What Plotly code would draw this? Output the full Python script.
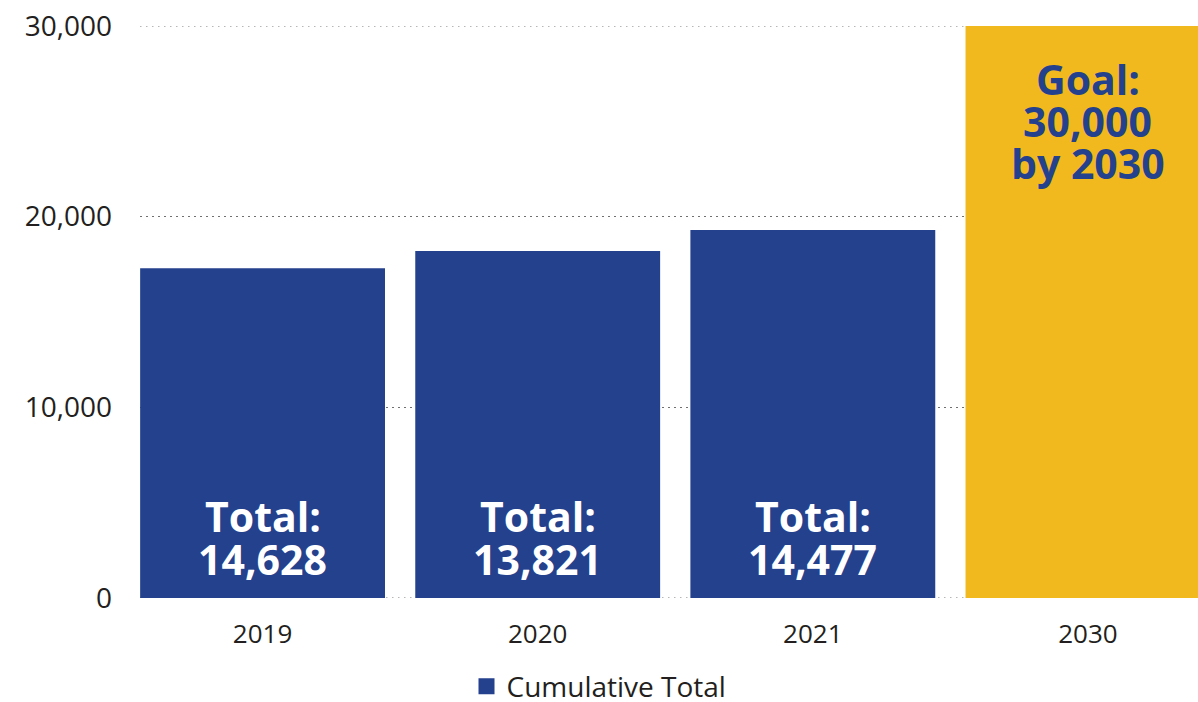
import plotly.graph_objects as go

# data
years = ["2019", "2020", "2021", "2030"]
bar_heights = [17300, 18200, 19300, 30000]
total_labels = ["14,628", "13,821", "14,477"]
goal_lines = ["Goal:", "30,000", "by 2030"]
y_ticks = [0, 10000, 20000, 30000]

BLUE = "#24418e"
GOLD = "#f2b91f"
FONT = "Open Sans"
GRID = dict(color="#6f6f6f", width=1.2, dash="1.5px,4.5px")

fig = go.Figure()
fig.add_trace(go.Bar(
    x=years, y=bar_heights, name="Cumulative Total",
    marker=dict(color=[BLUE, BLUE, BLUE, GOLD], line=dict(width=0)),
    showlegend=False,
))
# legend entry with a bigger square swatch
fig.add_trace(go.Scatter(
    x=[None], y=[None], mode="markers", name="Cumulative Total",
    marker=dict(symbol="square", size=18, color=BLUE),
))

# white two-line labels inside the blue bars (x given as category index)
for idx, lab in enumerate(total_labels):
    for i, line in enumerate(["Total:", lab]):
        fig.add_annotation(x=idx, y=0, text=f"<b>{line}</b>", showarrow=False,
                           yanchor="middle", yshift=82 - 43 * i,
                           font=dict(family=FONT, size=41, color="white"))

# goal text in the gold bar
for i, line in enumerate(goal_lines):
    fig.add_annotation(x=3, y=30000, text=f"<b>{line}</b>", showarrow=False,
                       yanchor="middle", yshift=-53 - 42 * i,
                       font=dict(family=FONT, size=41, color=BLUE))

# dotted lines at the range ends (plotly skips gridlines on the plot edge)
for yv in (y_ticks[0], y_ticks[-1]):
    fig.add_shape(type="line", xref="paper", x0=0, x1=1, y0=yv, y1=yv, layer="below",
                  line=GRID)

fig.update_layout(
    width=1198, height=702,
    margin=dict(l=140, r=0, t=26, b=104),
    paper_bgcolor="white", plot_bgcolor="white",
    font=dict(family=FONT, size=26, color="#231f20"),
    bargap=0.11,
    legend=dict(orientation="h", xref="container", yref="container",
                x=0.5, xanchor="center", y=0.022, yanchor="middle",
                itemsizing="trace", font=dict(size=28)),
    xaxis=dict(type="category", range=[-0.4455, 3.40], showgrid=False, zeroline=False,
               showline=False, ticks="", ticklabelstandoff=18),
    yaxis=dict(range=[0, 30000], tickvals=y_ticks, tickformat=",", showgrid=True,
               gridcolor=GRID["color"], griddash=GRID["dash"], gridwidth=GRID["width"],
               zeroline=False, showline=False, ticks="", ticklabelstandoff=27,
               tickfont=dict(size=28)),
)

fig.write_html("out.html", config={"displayModeBar": False},
               post_script="document.body.style.margin='0px';")
